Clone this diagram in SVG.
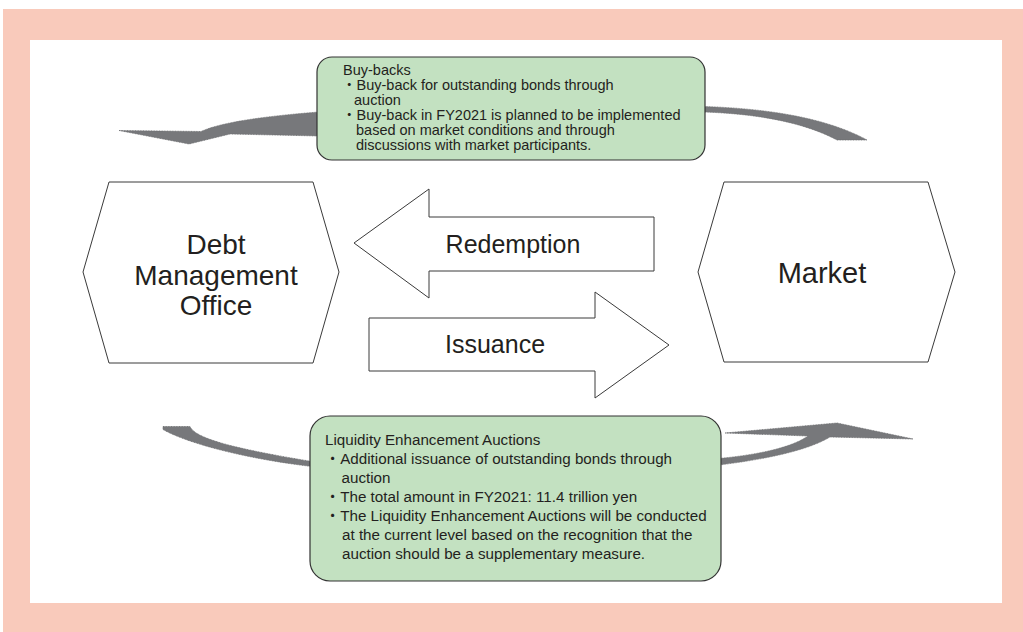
<svg xmlns="http://www.w3.org/2000/svg" width="1023" height="632" viewBox="0 0 1023 632">
<style>
.t{font-family:'Liberation Sans',Arial,'Noto Sans CJK JP',sans-serif;fill:#231f20}
.hex{fill:#fff;stroke:#3a3a3a;stroke-width:1}
.big{fill:#fff;stroke:#3a3a3a;stroke-width:1}
.curve{fill:#77787b;stroke:#6b6c6f;stroke-width:0.8;stroke-dasharray:1 0.6}
.box{fill:#c3e1c1;stroke:#333;stroke-width:1.2}
</style>
<rect x="3" y="9" width="1020" height="623" fill="#f9cabb"/>
<rect x="30" y="40" width="972" height="563" fill="#fff"/>
<g id="connectors">
<path class="curve" d="M119,130.5 L201,131.5 Q228,119 319,112 L319,136 L230,134 L189,144 Z"/>
<path class="curve" d="M704,106.5 Q812,110 867,140 L837,140 Q790,115 704,112 Z"/>
<path class="curve" d="M163,426.5 L190,426.5 C195,438 230,448 312,461.5 L312,466.5 C240,458 185,442 163,429.5 Z"/>
<path class="curve" d="M719,458.5 Q785,452 808,436 L725,433 L837,423 L913,439 L830,437 Q800,455 719,465 Z"/>
<g id="redemption">
<polygon class="big" points="354,243 429,189 429,217 654,217 654,271 429,271 429,298"/>
<text class="t" x="513" y="253" font-size="25" text-anchor="middle">Redemption</text>
</g>
<g id="issuance">
<polygon class="big" points="369,318 595,318 595,292 669,345 595,398 595,371 369,371"/>
<text class="t" x="495" y="353" font-size="25" text-anchor="middle">Issuance</text>
</g>
</g>
<g id="dmo">
<polygon class="hex" points="109,182 313,182 339,272 313,363 109,363 83,272"/>
<text class="t" font-size="28" text-anchor="middle"><tspan x="216" y="254">Debt</tspan><tspan x="216" y="285">Management</tspan><tspan x="216" y="315">Office</tspan></text>
</g>
<g id="market">
<polygon class="hex" points="724,182 928,182 955,272 928,362 724,362 698,272"/>
<text class="t" x="822" y="283" font-size="29" text-anchor="middle">Market</text>
</g>
<g id="buybacks">
<rect class="box" x="317" y="57" width="388" height="103" rx="15" ry="15"/>
<text class="t" font-size="14.5">
<tspan x="343" y="75">Buy-backs</tspan>
<tspan x="342" y="90">・Buy-back for outstanding bonds through</tspan>
<tspan x="354" y="105">auction</tspan>
<tspan x="342" y="120">・Buy-back in FY2021 is planned to be implemented</tspan>
<tspan x="356" y="135">based on market conditions and  through</tspan>
<tspan x="356" y="150">discussions with market participants.</tspan>
</text>
</g>
<g id="lea">
<rect class="box" x="310" y="416" width="411" height="165" rx="20" ry="20"/>
<text class="t" font-size="15.2">
<tspan x="325" y="445">Liquidity Enhancement Auctions</tspan>
<tspan x="325" y="464">・Additional issuance of outstanding bonds through</tspan>
<tspan x="341.5" y="483">auction</tspan>
<tspan x="325" y="502">・The total amount in FY2021: 11.4 trillion yen</tspan>
<tspan x="325" y="521">・The Liquidity Enhancement Auctions will be conducted</tspan>
<tspan x="342" y="540">at the current level based on the recognition that the</tspan>
<tspan x="342" y="559">auction should be a supplementary measure.</tspan>
</text>
</g>
</svg>
